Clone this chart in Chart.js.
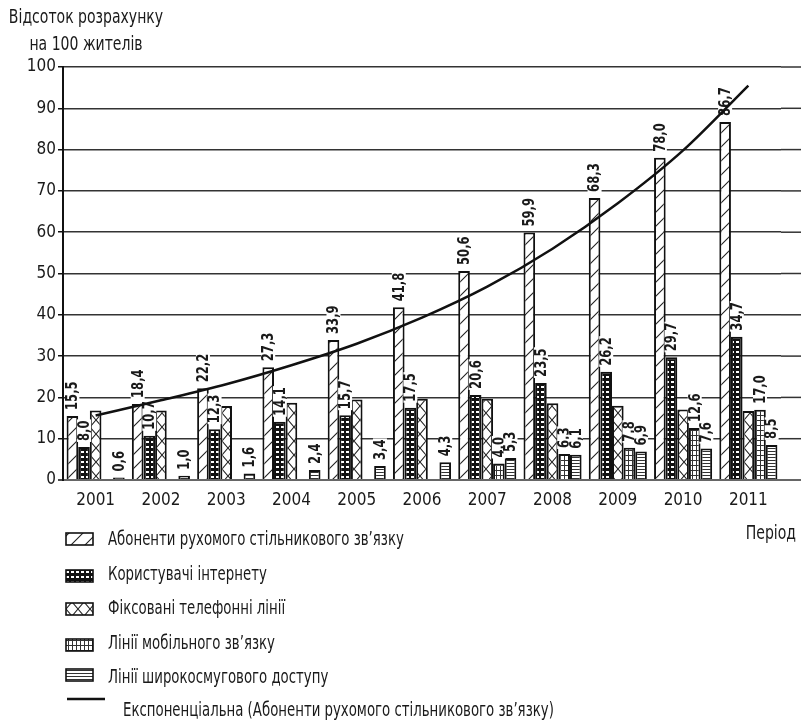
<!DOCTYPE html>
<html>
<head>
<meta charset="utf-8">
<script src="https://cdn.jsdelivr.net/npm/chart.js@4.4.1/dist/chart.umd.min.js"></script>
<style>
  html, body { margin: 0; padding: 0; background: #fff; }
  #wrap { width: 801px; height: 724px; position: relative; }
</style>
</head>
<body>
<div id="wrap"><canvas id="chart" width="801" height="724"></canvas></div>
<script>
// --- Data
const years = ["2001","2002","2003","2004","2005","2006","2007","2008","2009","2010","2011"];
const mobileSubs   = [15.5, 18.4, 22.2, 27.3, 33.9, 41.8, 50.6, 59.9, 68.3, 78.0, 86.7];
const internetUsers = [8.0, 10.7, 12.3, 14.1, 15.7, 17.5, 20.6, 23.5, 26.2, 29.7, 34.7];
const fixedLines   = [16.8, 16.8, 17.9, 18.7, 19.5, 19.7, 19.7, 18.6, 18.0, 17.1, 16.7];
const mobileLines  = [null, null, null, null, null, null, 4.0, 6.3, 7.8, 12.6, 17.0];
const broadband    = [0.6, 1.0, 1.6, 2.4, 3.4, 4.3, 5.3, 6.1, 6.9, 7.6, 8.5];
// exponential trend line, read at each year
const trendY = [15.6, 19.3, 23.2, 27.8, 33.0, 39.3, 46.8, 56.0, 67.0, 79.8, 95.5];
const yTicks = [0, 10, 20, 30, 40, 50, 60, 70, 80, 90, 100];

const seriesNames = [
  "Абоненти рухомого стільникового зв’язку",
  "Користувачі інтернету",
  "Фіксовані телефонні лінії",
  "Лінії мобільного зв’язку",
  "Лінії широкосмугового доступу",
  "Експоненціальна (Абоненти рухомого стільникового зв’язку)"
];

const FONT = "'DejaVu Sans Condensed', 'Liberation Sans Narrow', sans-serif";
const INK = "#1a1a1a";

// --- Fill patterns
function makePattern(w, h, draw){
  const c = document.createElement("canvas");
  c.width = w; c.height = h;
  const g = c.getContext("2d");
  draw(g, w, h);
  return document.getElementById("chart").getContext("2d").createPattern(c, "repeat");
}

const patHatch = makePattern(14, 14, (g, w, h) => {
  g.fillStyle = "#fff"; g.fillRect(0, 0, w, h);
  g.strokeStyle = "#222"; g.lineWidth = 1.1;
  g.beginPath();
  g.moveTo(-1, h + 1); g.lineTo(w + 1, -1);
  g.moveTo(-1, 1); g.lineTo(1, -1);
  g.moveTo(w - 1, h + 1); g.lineTo(w + 1, h - 1);
  g.stroke();
});

const patDots = makePattern(5, 5, (g, w, h) => {
  g.fillStyle = "#111"; g.fillRect(0, 0, w, h);
  g.fillStyle = "#fff"; g.fillRect(1, 1, 3, 2);
});

const patCross = makePattern(12, 14, (g, w, h) => {
  g.fillStyle = "#fff"; g.fillRect(0, 0, w, h);
  g.strokeStyle = "#222"; g.lineWidth = 1.1;
  g.beginPath();
  g.moveTo(0, 0); g.lineTo(w, h);
  g.moveTo(0, h); g.lineTo(w, 0);
  g.stroke();
});

const patGrid = makePattern(4, 5, (g, w, h) => {
  g.fillStyle = "#fff"; g.fillRect(0, 0, w, h);
  g.fillStyle = "#333";
  g.fillRect(0, 0, 1, h);
  g.fillRect(0, 0, w, 1);
});

const patStripes = makePattern(4, 3, (g, w, h) => {
  g.fillStyle = "#fff"; g.fillRect(0, 0, w, h);
  g.fillStyle = "#333"; g.fillRect(0, 1, w, 1);
});

function fmt(v){ return v.toFixed(1).replace(".", ","); }

// text squeezed horizontally (stand-in for a condensed face)
function squeezedText(ctx, txt, x, y, align, sq){
  const w = ctx.measureText(txt).width * sq;
  let left = x;
  if (align === "center") left = x - w / 2;
  else if (align === "right") left = x - w;
  ctx.save();
  ctx.translate(left, y);
  ctx.scale(sq, 1);
  ctx.textAlign = "left";
  ctx.fillText(txt, 0, 0);
  ctx.restore();
}

// --- Plugins
const gridExtend = {
  id: "gridExtend",
  beforeDatasetsDraw(chart){
    const { ctx, chartArea, scales } = chart;
    ctx.save();
    for (const v of yTicks){
      const y = scales.y.getPixelForValue(v);
      ctx.strokeStyle = v === 0 ? "#666" : "#333";
      ctx.lineWidth = v === 0 ? 2 : 1.5;
      ctx.beginPath();
      ctx.moveTo(chartArea.right, y);
      ctx.lineTo(chart.width, y);
      ctx.stroke();
    }
    ctx.restore();
  }
};

const LABELED = [0, 1, 3, 4];
const barLabels = {
  id: "barLabels",
  afterDatasetDraw(chart, args){
    if (args.index !== 0) return;
    const { ctx } = chart;
    ctx.save();
    ctx.font = "bold 15px " + FONT;
    ctx.textBaseline = "middle";
    ctx.textAlign = "left";
    for (const di of LABELED){
      const meta = chart.getDatasetMeta(di);
      const data = chart.data.datasets[di].data;
      meta.data.forEach((el, i) => {
        const v = data[i];
        if (v == null) return;
        const txt = fmt(v);
        const w = ctx.measureText(txt).width * 0.86;
        ctx.save();
        ctx.translate(el.x, el.y - 6);
        ctx.rotate(-Math.PI / 2);
        ctx.fillStyle = "#fff";
        ctx.fillRect(-1, -7, w + 2, 14);
        ctx.fillStyle = INK;
        ctx.scale(0.86, 1);
        ctx.fillText(txt, 0, 1);
        ctx.restore();
      });
    }
    ctx.restore();
  }
};

const extras = {
  id: "extras",
  afterDraw(chart){
    const { ctx } = chart;
    ctx.save();
    ctx.fillStyle = INK;
    ctx.font = "20px " + FONT;
    ctx.textBaseline = "middle";
    // y-axis title
    squeezedText(ctx, "Відсоток розрахунку", 86, 18, "center", 0.78);
    squeezedText(ctx, "на 100 жителів", 86, 45, "center", 0.78);
    // x-axis title
    squeezedText(ctx, "Період", 796, 534, "right", 0.78);

    // legend
    const iconY = [539, 576, 609, 645, 675];
    const textY = [540, 575, 609, 644, 678];
    for (let i = 0; i < 5; i++){
      const ds = chart.data.datasets[i];
      ctx.fillStyle = ds.backgroundColor;
      ctx.fillRect(66, iconY[i] - 6, 27, 12);
      ctx.strokeStyle = "#111";
      ctx.lineWidth = 1.6;
      ctx.strokeRect(66, iconY[i] - 6, 27, 12);
      ctx.fillStyle = INK;
      squeezedText(ctx, ds.label, 108, textY[i], "left", 0.74);
    }
    ctx.strokeStyle = "#111";
    ctx.lineWidth = 2.5;
    ctx.beginPath();
    ctx.moveTo(67, 699);
    ctx.lineTo(105, 699);
    ctx.stroke();
    squeezedText(ctx, seriesNames[5], 123, 711, "left", 0.74);
    ctx.restore();
  }
};

// --- Chart
const barCommon = { type: "bar", borderColor: "#111", borderWidth: 2, order: 1,
  categoryPercentage: 0.89, barPercentage: 1.0 };

new Chart(document.getElementById("chart"), {
  type: "bar",
  data: {
    labels: years,
    datasets: [
      { ...barCommon, label: seriesNames[0], data: mobileSubs, backgroundColor: patHatch },
      { ...barCommon, label: seriesNames[1], data: internetUsers, backgroundColor: patDots },
      { ...barCommon, label: seriesNames[2], data: fixedLines, backgroundColor: patCross },
      { ...barCommon, label: seriesNames[3], data: mobileLines, backgroundColor: patGrid },
      { ...barCommon, label: seriesNames[4], data: broadband, backgroundColor: patStripes },
      {
        type: "line", label: seriesNames[5], order: 0,
        data: trendY,
        borderColor: "#111", borderWidth: 2.5, pointRadius: 0,
        cubicInterpolationMode: "monotone", fill: false
      }
    ]
  },
  options: {
    responsive: false,
    animation: false,
    devicePixelRatio: 1,
    layout: { padding: { top: 67, right: 20, left: 0, bottom: 0 } },
    plugins: { legend: { display: false }, tooltip: { enabled: false } },
    scales: {
      x: {
        type: "category",
        offset: true,
        grid: { display: false, drawTicks: false },
        border: { display: true, color: "#666", width: 2 },
        ticks: { color: INK, font: { family: FONT, size: 17 }, padding: 10, maxRotation: 0 },
        afterFit(scale){ scale.height = 244; }
      },
      y: {
        min: 0, max: 100,
        afterBuildTicks(scale){ scale.ticks = yTicks.map(v => ({ value: v })); },
        grid: {
          color: (c) => c.tick && c.tick.value === 0 ? "#666" : "#333",
          lineWidth: (c) => c.tick && c.tick.value === 0 ? 2 : 1.5,
          tickLength: 5, tickColor: "#111", tickWidth: 1.5
        },
        border: { display: true, color: "#111", width: 2 },
        ticks: { color: INK, font: { family: FONT, size: 17 }, padding: 2 },
        afterFit(scale){ scale.width = 63; }
      }
    }
  },
  plugins: [gridExtend, barLabels, extras]
});
</script>
</body>
</html>
